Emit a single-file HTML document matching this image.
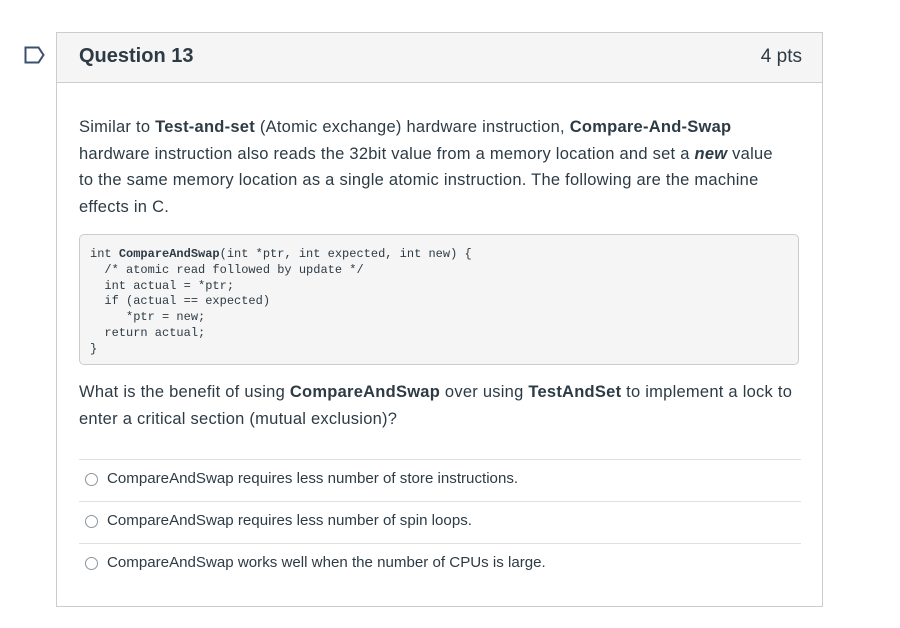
<!DOCTYPE html>
<html><head><style>
body{margin:0;width:900px;height:628px;background:#fff;font-family:"Liberation Sans",sans-serif;color:#2d3b45;position:relative;overflow:hidden}
.box{position:absolute;left:56px;top:32px;width:765px;height:573px;border:1px solid #c7cdd1}
.hdr{height:49px;background:#f5f5f5;border-bottom:1px solid #c7cdd1;position:relative}
.hdr .t{position:absolute;left:22px;top:12px;font-size:20px;font-weight:bold}
.hdr .p{position:absolute;right:20px;top:13px;font-size:19px}
.txt{position:absolute;left:22px;font-size:16.5px;line-height:26.5px;white-space:nowrap;letter-spacing:0.25px}
pre{position:absolute;left:22px;top:201px;width:720px;height:131px;margin:0;box-sizing:border-box;background:#f5f5f5;border:1px solid #c7cdd1;border-radius:5px;padding:12px 10px;font-family:"Liberation Mono",monospace;font-size:12px;line-height:15.8px;color:#2d3b45}
.opt{position:absolute;left:22px;width:722px;border-top:1px solid #dde1e3;height:41px;font-size:15.1px}
.opt span.c{position:absolute;left:6px;top:13px;width:11px;height:11px;border:1px solid #8b969e;border-radius:50%}
.opt span.l{position:absolute;left:28px;top:10px}
</style></head><body>
<svg style="position:absolute;left:24px;top:45px" width="22" height="22"><path d="M1.5 2.5h13l5 7.5-5 7.5h-13z" fill="none" stroke="#3b5070" stroke-width="2"/></svg>
<div class="box">
<div class="hdr"><div class="t">Question 13</div><div class="p">4 pts</div></div>
<div class="txt" style="top:81px">Similar to <b>Test-and-set</b> (Atomic exchange) hardware instruction, <b>Compare-And-Swap</b><br>hardware instruction also reads the 32bit value from a memory location and set a <b><i>new</i></b> value<br>to the same memory location as a single atomic instruction. The following are the machine<br>effects in C.</div>
<pre>int <b>CompareAndSwap</b>(int *ptr, int expected, int new) {
  /* atomic read followed by update */
  int actual = *ptr;
  if (actual == expected)
     *ptr = new;
  return actual;
}</pre>
<div class="txt" style="top:346px">What is the benefit of using <b>CompareAndSwap</b> over using <b>TestAndSet</b> to implement a lock to<br>enter a critical section (mutual exclusion)?</div>
<div class="opt" style="top:426px"><span class="c"></span><span class="l">CompareAndSwap requires less number of store instructions.</span></div>
<div class="opt" style="top:468px"><span class="c"></span><span class="l">CompareAndSwap requires less number of spin loops.</span></div>
<div class="opt" style="top:510px"><span class="c"></span><span class="l">CompareAndSwap works well when the number of CPUs is large.</span></div>
</div>
</body></html>
